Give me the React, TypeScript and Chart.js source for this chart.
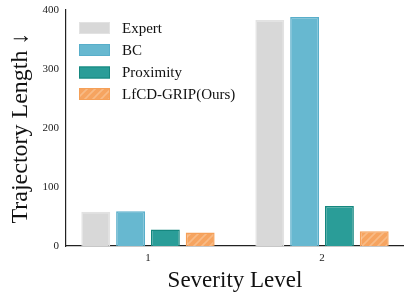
import React, { useEffect, useRef } from "react";
import { Chart, registerables } from "chart.js";

Chart.register(...registerables);

const categories = [1, 2];
const seriesLabels = ["Expert", "BC", "Proximity", "LfCD-GRIP(Ours)"];
const expertValues = [58, 383];
const bcValues = [59, 388];
const proximityValues = [28, 68];
const lfcdValues = [23, 25];
const yTicks = [0, 100, 200, 300, 400];

const FONT = "'Liberation Serif', 'DejaVu Serif', serif";

function makeHatch(): CanvasPattern | string {
  const c = document.createElement("canvas");
  c.width = 8;
  c.height = 8;
  const g = c.getContext("2d");
  if (!g) return "#f6a45f";
  g.fillStyle = "#f6a460";
  g.fillRect(0, 0, 8, 8);
  g.strokeStyle = "#f8bb86";
  g.lineWidth = 1.6;
  g.beginPath();
  g.moveTo(0, 8);
  g.lineTo(8, 0);
  g.moveTo(-2, 2);
  g.lineTo(2, -2);
  g.moveTo(6, 10);
  g.lineTo(10, 6);
  g.stroke();
  const p = g.createPattern(c, "repeat");
  return p || "#f6a45f";
}

export default function App() {
  const ref = useRef<HTMLCanvasElement | null>(null);

  useEffect(() => {
    if (!ref.current) return;
    const hatch = makeHatch();
    const fills: (string | CanvasPattern)[] = ["#d8d8d8", "#67b8d0", "#2a9d98", hatch];
    const borders = ["#e2e2e2", "#58aeca", "#15877f", "#f5a058"];
    const seriesValues = [expertValues, bcValues, proximityValues, lfcdValues];

    const legendPlugin = {
      id: "customLegend",
      afterDraw(chart: any) {
        const ctx = chart.ctx;
        ctx.save();
        const x0 = 79;
        const rowY = [28, 50, 72.5, 94];
        seriesLabels.forEach((lab, i) => {
          const cy = rowY[i];
          ctx.fillStyle = fills[i];
          ctx.fillRect(x0, cy - 6, 31, 12);
          ctx.strokeStyle = borders[i];
          ctx.lineWidth = 1;
          ctx.strokeRect(x0 + 0.5, cy - 5.5, 30, 11);
          ctx.fillStyle = "#111";
          ctx.font = `15px ${FONT}`;
          ctx.textAlign = "left";
          ctx.textBaseline = "middle";
          ctx.fillText(lab, 122, cy + 1);
        });
        ctx.restore();
      },
    };

    const chart = new Chart(ref.current, {
      type: "bar",
      data: {
        datasets: seriesLabels.map((lab, i) => ({
          label: lab,
          data: categories.map((c, j) => ({ x: c, y: seriesValues[i][j] })),
          backgroundColor: fills[i],
          borderColor: borders[i],
          borderWidth: 1.5,
          categoryPercentage: 0.8,
          barPercentage: 0.83,
        })),
      },
      options: {
        animation: false,
        responsive: false,
        layout: { padding: { top: 10, right: 0, left: 0, bottom: 0 } },
        plugins: { legend: { display: false }, tooltip: { enabled: false } },
        scales: {
          x: {
            type: "linear",
            offset: false,
            min: 0.529,
            max: 2.471,
            grid: { display: false, drawTicks: true, tickLength: 4, tickColor: "#333" } as any,
            border: { display: true, color: "#222", width: 1.2 },
            afterBuildTicks: (s: any) => {
              s.ticks = categories.map((v) => ({ value: v }));
            },
            afterFit: (s: any) => {
              s.height = 49;
            },
            ticks: {
              color: "#222",
              font: { family: FONT, size: 11 },
              padding: 2,
              callback: (v: any) => String(v),
            },
            title: {
              display: true,
              text: "Severity Level",
              color: "#111",
              font: { family: FONT, size: 23 },
              padding: { top: 1, bottom: 0 },
            },
          },
          y: {
            min: 0,
            max: 400,
            grid: { display: false, drawTicks: true, tickLength: 4, tickColor: "#333" } as any,
            border: { display: true, color: "#222", width: 1.2 },
            afterBuildTicks: (s: any) => {
              s.ticks = yTicks.map((v) => ({ value: v }));
            },
            afterFit: (s: any) => {
              s.width = 66;
            },
            ticks: {
              color: "#222",
              font: { family: FONT, size: 11 },
              padding: 3,
            },
            title: {
              display: true,
              text: "Trajectory Length ↓",
              color: "#111",
              font: { family: FONT, size: 24 },
              padding: { top: 6, bottom: 0 },
            },
          },
        },
      },
      plugins: [legendPlugin],
    });
    return () => chart.destroy();
  }, []);

  return (
    <div style={{ position: "fixed", left: 0, top: 0, width: 404, height: 295, background: "#fff" }}>
      <canvas ref={ref} width={404} height={295} style={{ display: "block" }} />
    </div>
  );
}
